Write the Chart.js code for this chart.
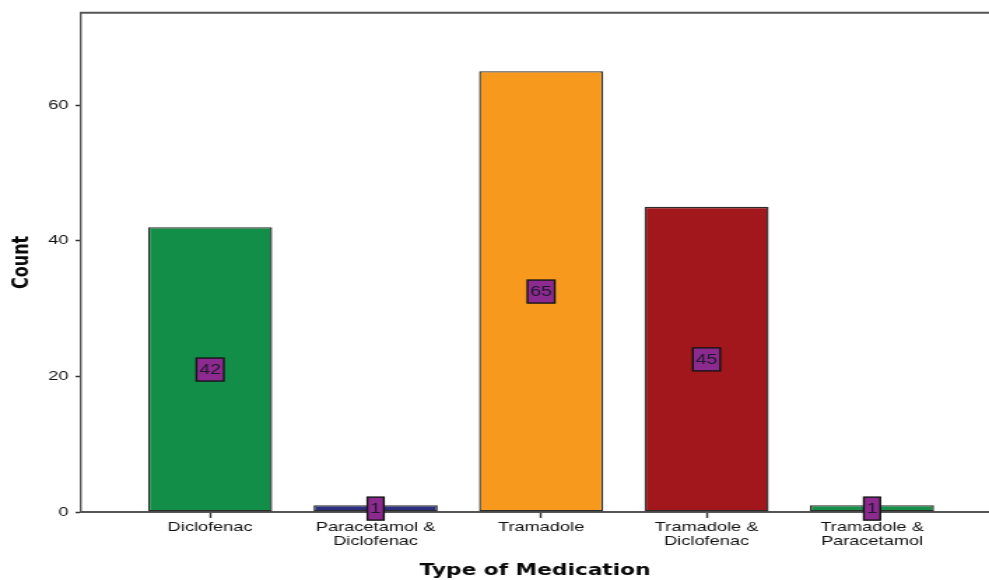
<!DOCTYPE html>
<html>
<head>
<meta charset="utf-8">
<script src="https://cdn.jsdelivr.net/npm/chart.js@4/dist/chart.umd.min.js"></script>
<style>
  html, body { margin: 0; padding: 0; background: #fff; overflow: hidden; }
  /* chart is laid out narrow and widened horizontally */
  #wrap { width: 707px; height: 580px; transform: scaleX(1.3989); transform-origin: 0 0; }
</style>
</head>
<body>
<div id="wrap"><canvas id="chart"></canvas></div>
<script>
const categories = [
  ['Diclofenac'],
  ['Paracetamol &', 'Diclofenac'],
  ['Tramadole'],
  ['Tramadole &', 'Diclofenac'],
  ['Tramadole &', 'Paracetamol']
];
const counts = [42, 1, 65, 45, 1];
const barColors = ['#138e48', '#2c2f7e', '#f7991d', '#a1171b', '#17914a'];
const yTicks = [0, 20, 40, 60];

const FRAME = '#555555';

// value boxes centred half-way up each bar
const valueBoxes = {
  id: 'valueBoxes',
  afterDatasetsDraw(chart) {
    const ctx = chart.ctx;
    const meta = chart.getDatasetMeta(0);
    const ys = chart.scales.y;
    ctx.save();
    ctx.font = '14px "Liberation Sans", Arial, sans-serif';
    ctx.textAlign = 'center';
    ctx.textBaseline = 'middle';
    meta.data.forEach((bar, i) => {
      const txt = String(counts[i]);
      const w = ctx.measureText(txt).width + 4;
      const h = 23;
      const cx = bar.x;
      const cy = ys.getPixelForValue(counts[i] / 2);
      ctx.fillStyle = '#8d2a8f';
      ctx.fillRect(cx - w / 2, cy - h / 2, w, h);
      ctx.strokeStyle = '#151515';
      ctx.lineWidth = 1.4;
      ctx.strokeRect(cx - w / 2, cy - h / 2, w, h);
      ctx.fillStyle = '#1e1a2e';
      ctx.fillText(txt, cx, cy + 1);
    });
    ctx.restore();
  }
};

// top edge of the plot frame
const topFrame = {
  id: 'topFrame',
  afterDraw(chart) {
    const { ctx, chartArea } = chart;
    ctx.save();
    ctx.strokeStyle = FRAME;
    ctx.lineWidth = 2;
    ctx.beginPath();
    ctx.moveTo(chartArea.left - 0.7, chartArea.top);
    ctx.lineTo(chartArea.right, chartArea.top);
    ctx.stroke();
    ctx.restore();
  }
};

new Chart(document.getElementById('chart'), {
  type: 'bar',
  data: {
    datasets: [{
      data: counts.map((v, i) => ({ x: i, y: v })),
      backgroundColor: barColors,
      borderColor: '#2b2b2b',
      borderWidth: 1.4,
      borderSkipped: false,
      barPercentage: 0.75,
      categoryPercentage: 1
    }]
  },
  plugins: [valueBoxes, topFrame],
  options: {
    responsive: true,
    maintainAspectRatio: false,
    animation: false,
    layout: { padding: { top: 10, right: 0, bottom: 0, left: 0 } },
    plugins: { legend: { display: false }, tooltip: { enabled: false } },
    scales: {
      x: {
        type: 'linear',
        min: -0.7795,
        max: 4.707,
        offset: false,
        afterBuildTicks(scale) { scale.ticks = categories.map((c, i) => ({ value: i })); },
        afterFit(scale) { scale.height = 68; },
        ticks: {
          callback: (v) => categories[v],
          color: '#111',
          font: { family: '"Liberation Sans", Arial, sans-serif', size: 13, lineHeight: 1.05 },
          padding: 3,
          maxRotation: 0,
          autoSkip: false
        },
        grid: {
          display: true,
          offset: false,
          drawOnChartArea: false,
          drawTicks: true,
          tickLength: 6,
          tickColor: '#333',
          tickWidth: 1.4
        },
        border: { display: true, color: FRAME, width: 2 },
        title: {
          display: true,
          text: 'Type of Medication',
          color: '#0a0a0a',
          font: { family: '"DejaVu Sans", sans-serif', size: 15.5, weight: 'bold', lineHeight: 1 },
          padding: { top: 0, bottom: 1.5 }
        }
      },
      y: {
        min: 0,
        max: 73.6,
        afterBuildTicks(scale) { scale.ticks = yTicks.map(v => ({ value: v })); },
        afterFit(scale) { scale.width = 58; },
        ticks: {
          color: '#111',
          font: { family: '"Liberation Sans", Arial, sans-serif', size: 13 },
          padding: 5,
          includeBounds: false
        },
        grid: {
          display: true,
          drawOnChartArea: false,
          drawTicks: true,
          tickLength: 4,
          tickColor: '#333',
          tickWidth: 1.5
        },
        border: { display: true, color: FRAME, width: 1.4 },
        title: {
          display: true,
          text: 'Count',
          color: '#0a0a0a',
          font: { family: '"DejaVu Sans", sans-serif', size: 16, weight: 'bold', lineHeight: 1 },
          padding: { top: 8, bottom: 0 }
        }
      }
    }
  }
});
</script>
</body>
</html>
